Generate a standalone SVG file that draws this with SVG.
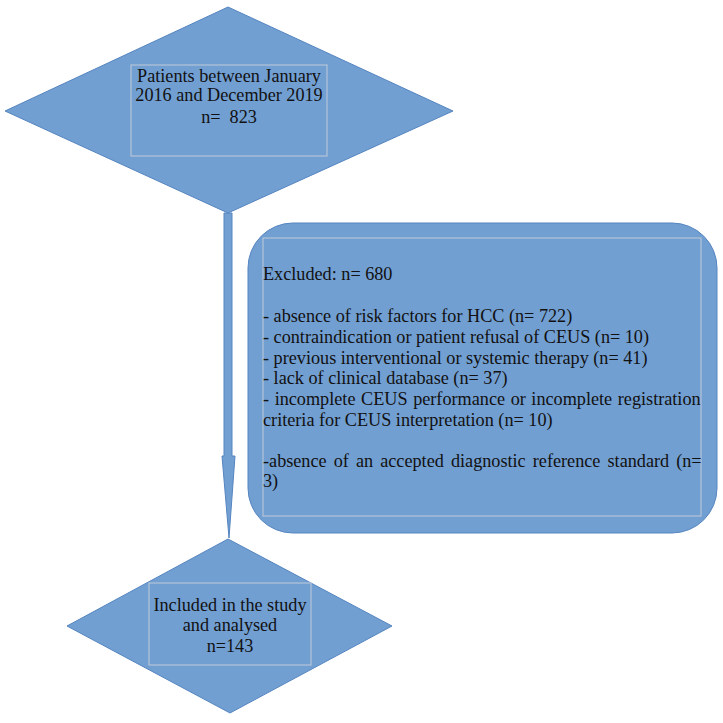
<svg xmlns="http://www.w3.org/2000/svg" width="723" height="723" viewBox="0 0 723 723">
<style>
.shape{fill:#729fd2;stroke:#5585c0;stroke-width:1}
.inner{fill:none;stroke:#b4c3d6;stroke-width:1.2}
.t{font-family:"Liberation Serif","Times New Roman",serif;font-size:18.2px;fill:#111;white-space:pre}
.c{text-anchor:middle}
</style>
<rect width="723" height="723" fill="#ffffff"/>
<g id="connectors">
<path class="shape" d="M224,213 L232,213 L232,456 L235,456 L229,538 L222,456 L224,456 Z"/>
</g>
<g id="start">
<polygon class="shape" points="228,7 453,111 228,213 5,111"/>
<rect class="inner" x="131" y="65" width="196" height="91"/>
<text class="t c" x="229" y="82">Patients between January</text>
<text class="t c" x="229" y="101">2016 and December 2019</text>
<text class="t c" x="229" y="123" xml:space="preserve">n=  823</text>
</g>
<g id="excluded">
<rect class="shape" x="248" y="223" width="469" height="310" rx="45" ry="45"/>
<rect class="inner" x="263" y="238" width="438" height="278"/>
<text class="t" x="263" y="280">Excluded: n= 680</text>
<text class="t" x="263" y="322">- absence of risk factors for HCC (n= 722)</text>
<text class="t" x="263" y="342.5">- contraindication or patient refusal of CEUS (n= 10)</text>
<text class="t" x="263" y="363.5">- previous interventional or systemic therapy (n= 41)</text>
<text class="t" x="263" y="384">- lack of clinical database (n= 37)</text>
<text class="t" x="263" y="405" word-spacing="1.05">- incomplete CEUS performance or incomplete registration</text>
<text class="t" x="263" y="426">criteria for CEUS interpretation (n= 10)</text>
<text class="t" x="263" y="466.5" word-spacing="2.55">-absence of an accepted diagnostic reference standard (n=</text>
<text class="t" x="263" y="487">3)</text>
</g>
<g id="included">
<polygon class="shape" points="228,539 392,626 230,713 67,626"/>
<rect class="inner" x="149" y="583" width="162" height="82"/>
<text class="t c" x="230" y="611">Included in the study</text>
<text class="t c" x="230" y="631">and analysed</text>
<text class="t c" x="230" y="652">n=143</text>
</g>
</svg>
